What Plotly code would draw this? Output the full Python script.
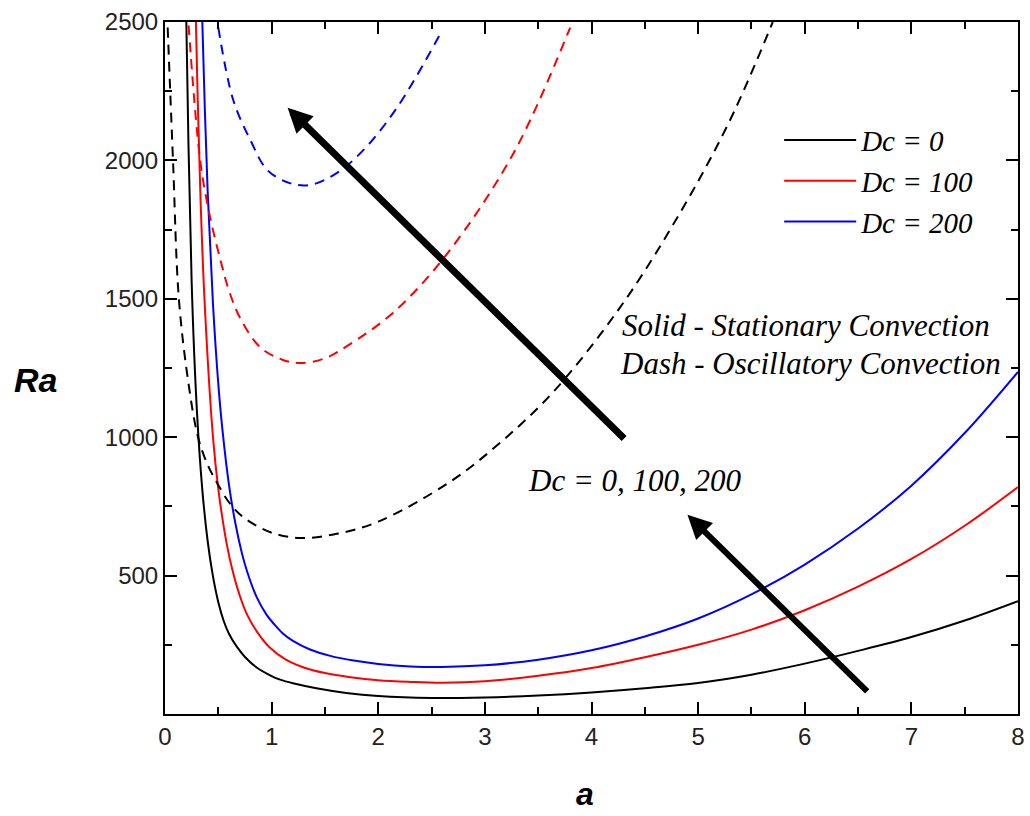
import plotly.graph_objects as go

# ---- data (a, Ra) ----
# Solid: stationary convection
a_s0 = [0.18, 0.2, 0.25, 0.3, 0.35, 0.4, 0.45, 0.5, 0.55, 0.6, 0.67, 0.75, 0.86, 1.0, 1.08, 1.2, 1.42, 1.7, 2.0, 2.5, 3.0, 3.5, 4.0, 4.5, 5.0, 5.5, 6.0, 6.5, 7.0, 7.5, 8.0]
ra_s0 = [3100, 2500, 1560, 1090, 810, 625, 497, 404, 337, 290, 245, 206, 168, 137, 124, 111, 93, 76, 65, 58, 60, 67, 78, 93, 112, 142, 182, 228, 278, 338, 408]

a_s100 = [0.27, 0.29, 0.33, 0.37, 0.45, 0.5, 0.54, 0.58, 0.63, 0.7, 0.77, 0.87, 0.98, 1.13, 1.3, 1.5, 1.74, 2.0, 2.3, 2.6, 3.0, 3.5, 4.0, 4.5, 5.0, 5.5, 6.0, 6.5, 7.0, 7.5, 8.0]
ra_s100 = [2950, 2500, 1900, 1500, 1000, 812, 703, 612, 524, 429, 359, 293, 241, 197, 168, 148, 133, 122, 116, 113, 118, 138, 166, 205, 250, 305, 375, 460, 560, 680, 820]

a_s200 = [0.33, 0.35, 0.4, 0.45, 0.5, 0.54, 0.6, 0.66, 0.72, 0.77, 0.86, 0.95, 1.02, 1.1, 1.2, 1.36, 1.55, 1.77, 2.0, 2.3, 2.6, 3.0, 3.5, 4.0, 4.5, 5.0, 5.5, 6.0, 6.5, 7.0, 7.5, 8.0]
ra_s200 = [2850, 2500, 1888, 1481, 1192, 1022, 828, 689, 583, 515, 422, 360, 326, 293, 264, 233, 210, 193, 181, 172, 170, 176, 196, 230, 280, 345, 432, 540, 670, 825, 1015, 1236]

# Dash: oscillatory convection
a_d0 = [0.025, 0.075, 0.13, 0.22, 0.31, 0.4, 0.49, 0.6, 0.73, 1.0, 1.27, 1.6, 2.0, 2.67, 3.14, 3.64, 4.27, 4.83, 5.3, 5.7]
ra_d0 = [2480, 2000, 1500, 1195, 1000, 900, 834, 765, 712, 655, 636, 650, 695, 838, 979, 1163, 1470, 1810, 2146, 2500]

a_d100 = [0.21, 0.33, 0.42, 0.52, 0.6, 0.7, 0.89, 1.1, 1.27, 1.5, 1.71, 2.14, 2.64, 3.27, 3.8]
ra_d100 = [2550, 2000, 1800, 1640, 1530, 1434, 1326, 1280, 1268, 1285, 1330, 1450, 1660, 2027, 2480]

a_d200 = [0.5, 0.64, 0.8, 0.96, 1.17, 1.36, 1.61, 1.86, 2.18, 2.6]
ra_d200 = [2480, 2218, 2074, 1965, 1918, 1911, 1954, 2037, 2193, 2470]

labels = ["Dc = 0", "Dc = 100", "Dc = 200"]
colors = ["#000000", "#ff0000", "#0000ff"]

x_ticks = [0, 1, 2, 3, 4, 5, 6, 7, 8]
y_ticks = [500, 1000, 1500, 2000, 2500]

SERIF = "Liberation Serif, Times New Roman, serif"
SANS = "Liberation Sans, Arial, sans-serif"

fig = go.Figure()

solid = [(a_s0, ra_s0), (a_s100, ra_s100), (a_s200, ra_s200)]
dash = [(a_d0, ra_d0), (a_d100, ra_d100), (a_d200, ra_d200)]

for i, (xs, ys) in enumerate(solid):
    fig.add_trace(go.Scatter(
        x=xs, y=ys, mode="lines", name="<i>" + labels[i] + "</i>",
        line=dict(color=colors[i], width=2, shape="spline", smoothing=1.0),
        hoverinfo="skip"))
for i, (xs, ys) in enumerate(dash):
    fig.add_trace(go.Scatter(
        x=xs, y=ys, mode="lines", showlegend=False,
        line=dict(color=colors[i], width=2, dash="10px,7px", shape="spline", smoothing=1.0),
        hoverinfo="skip"))

axis_common = dict(
    showline=True, linewidth=2, linecolor="black", mirror="ticks",
    ticks="inside", ticklen=12, tickwidth=2, tickcolor="black",
    showgrid=False, zeroline=False, automargin=False,
    tickfont=dict(family=SANS, size=24, color="#222"),
)

fig.update_xaxes(range=[0, 8], tickvals=x_ticks,
                 minor=dict(ticks="inside", ticklen=7, tickwidth=2, tickcolor="black", dtick=0.5, showgrid=False),
                 **axis_common)
fig.update_yaxes(range=[0, 2500], tickvals=y_ticks,
                 minor=dict(ticks="inside", ticklen=7, tickwidth=2, tickcolor="black",
                            tickvals=[250, 750, 1250, 1750, 2250], showgrid=False),
                 **axis_common)

annotations = [
    # axis titles
    dict(text="<b><i>Ra</i></b>", xref="paper", yref="paper", x=-0.152, y=(714 - 380) / 692,
         showarrow=False, font=dict(family=SANS, size=34, color="black"), xanchor="center", yanchor="middle"),
    dict(text="<b><i>a</i></b>", xref="paper", yref="paper", x=0.492, y=-(794 - 714) / 692,
         showarrow=False, font=dict(family=SANS, size=32, color="black"), xanchor="center", yanchor="middle"),
    # texts
    dict(text="<i>Solid - Stationary Convection</i>", x=4.27, y=1402, xref="x", yref="y",
         showarrow=False, xanchor="left", yanchor="middle", font=dict(family=SERIF, size=31, color="black")),
    dict(text="<i>Dash - Oscillatory Convection</i>", x=4.25, y=1268, xref="x", yref="y",
         showarrow=False, xanchor="left", yanchor="middle", font=dict(family=SERIF, size=31, color="black")),
    dict(text="<i>Dc = 0, 100, 200</i>", x=3.39, y=845, xref="x", yref="y",
         showarrow=False, xanchor="left", yanchor="middle", font=dict(family=SERIF, size=31, color="black")),
    # arrows
    dict(x=1.15, y=2190, ax=4.32, ay=990, xref="x", yref="y", axref="x", ayref="y", text="",
         showarrow=True, arrowhead=2, arrowsize=0.7, arrowwidth=7, arrowcolor="black", standoff=0),
    dict(x=4.9, y=720, ax=6.6, ay=76, xref="x", yref="y", axref="x", ayref="y", text="",
         showarrow=True, arrowhead=2, arrowsize=0.8, arrowwidth=6, arrowcolor="black", standoff=0),
]

fig.update_layout(
    width=1030, height=816,
    margin=dict(l=165, r=12, t=22, b=102),
    plot_bgcolor="white", paper_bgcolor="white",
    annotations=annotations,
    showlegend=True,
    legend=dict(x=0.72, y=0.866, xanchor="left", yanchor="top",
                font=dict(family=SERIF, size=29, color="black"),
                bgcolor="rgba(0,0,0,0)", itemwidth=72,
                traceorder="normal"),
)

fig.write_html("out.html")
